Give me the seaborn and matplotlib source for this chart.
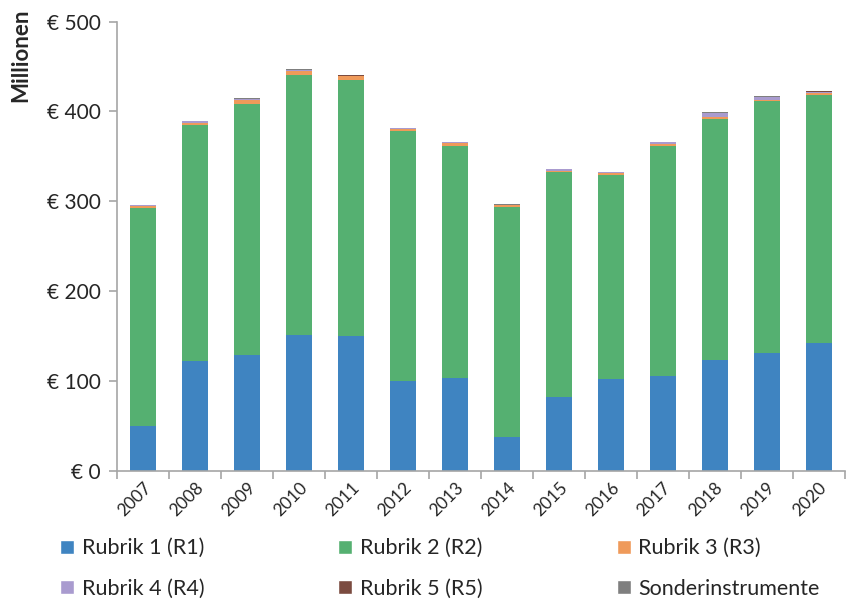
# Stacked bar chart: budget per Rubrik, 2007-2020
import matplotlib
matplotlib.use("Agg")
import matplotlib.pyplot as plt
import matplotlib.ticker as mticker
from matplotlib.patches import Patch
import pandas as pd
import seaborn as sns

# Data (million EUR)
years = [str(y) for y in range(2007, 2021)]
r1 = [50.3, 122, 129, 151, 149.7, 100.5, 102.8, 37.2, 82, 101.7, 106, 123, 131.5, 142]
r2 = [242, 262.5, 279.6, 289, 285, 278, 258.8, 256, 251, 228, 255.6, 269, 280, 276.7]
r3 = [2.5, 3, 4, 4.5, 4.5, 2, 3.3, 3, 1.1, 1.8, 2.2, 2.2, 1.5, 1.5]
r4 = [1, 1.5, 1.5, 1.5, 0.7, 1.5, 1.5, 0, 2.2, 1.5, 2.2, 4, 2.6, 1.8]
r5 = [0, 0, 0, 0, 1, 0, 0, 0, 0, 0, 0, 0, 0, 1.1]
sonder = [0, 0, 1, 1, 0, 0, 0, 1, 0, 0, 0, 1.1, 1.8, 0]

series = ["Rubrik 1 (R1)", "Rubrik 2 (R2)", "Rubrik 3 (R3)",
          "Rubrik 4 (R4)", "Rubrik 5 (R5)", "Sonderinstrumente"]
colors = ["#3F84C1", "#55B071", "#EF9A5A", "#A99BCF", "#7B4B40", "#7F7F7F"]

df = pd.DataFrame({"year": years, series[0]: r1, series[1]: r2, series[2]: r3,
                   series[3]: r4, series[4]: r5, series[5]: sonder})

sns.set_theme(style="white")
plt.rcParams["font.family"] = ["Lato", "DejaVu Sans"]

fig = plt.figure(figsize=(8.49, 5.99), dpi=100)
ax = fig.add_axes([0.138, 0.214, 0.857, 0.75])

# Stack the series one on top of the other
bottom = [0.0] * len(years)
for name, col in zip(series, colors):
    sns.barplot(data=df, x="year", y=name, bottom=bottom, color=col,
                width=0.5, ax=ax, saturation=1, linewidth=0)
    bottom = [b + v for b, v in zip(bottom, df[name])]

ax.set_ylim(0, 500)
ax.set_xlim(-0.5, len(years) - 0.5)
ax.yaxis.set_major_locator(mticker.MultipleLocator(100))
ax.yaxis.set_major_formatter(mticker.FuncFormatter(lambda v, p: f"€ {v:.0f}"))
ax.set_xlabel("")
ax.set_ylabel("")

# Axis styling
for s in ["top", "right"]:
    ax.spines[s].set_visible(False)
for s in ["left", "bottom"]:
    ax.spines[s].set_color("#A6A6A6")
    ax.spines[s].set_linewidth(1.2)
ax.tick_params(axis="y", which="major", length=6, width=1.2, color="#A6A6A6",
               labelsize=15, left=True, pad=6)
ax.tick_params(axis="x", which="major", length=0, labelsize=12.5, pad=6)
ax.set_xticks([i - 0.5 for i in range(len(years) + 1)], minor=True)
ax.tick_params(axis="x", which="minor", length=6, width=1.2, color="#A6A6A6", bottom=True)
for lab in ax.get_xticklabels():
    lab.set_rotation(45)
    lab.set_ha("right")
    lab.set_va("top")
    lab.set_rotation_mode("anchor")

fig.text(0.024, 0.985, "Millionen", rotation=90, ha="center", va="top",
         fontsize=16, fontweight="bold")

# Legend row by row: matplotlib fills columns first, so reorder
handles = [Patch(facecolor=c, label=n) for n, c in zip(series, colors)]
order = [0, 3, 1, 4, 2, 5]
fig.legend(handles=[handles[i] for i in order], loc="lower left",
           bbox_to_anchor=(0.048, -0.032, 0.94, 0.15), mode="expand",
           ncol=3, frameon=False, fontsize=15.5, handlelength=0.65, handleheight=0.65,
           handletextpad=0.35, labelspacing=0.95)

fig.savefig("out.png", dpi=100)
